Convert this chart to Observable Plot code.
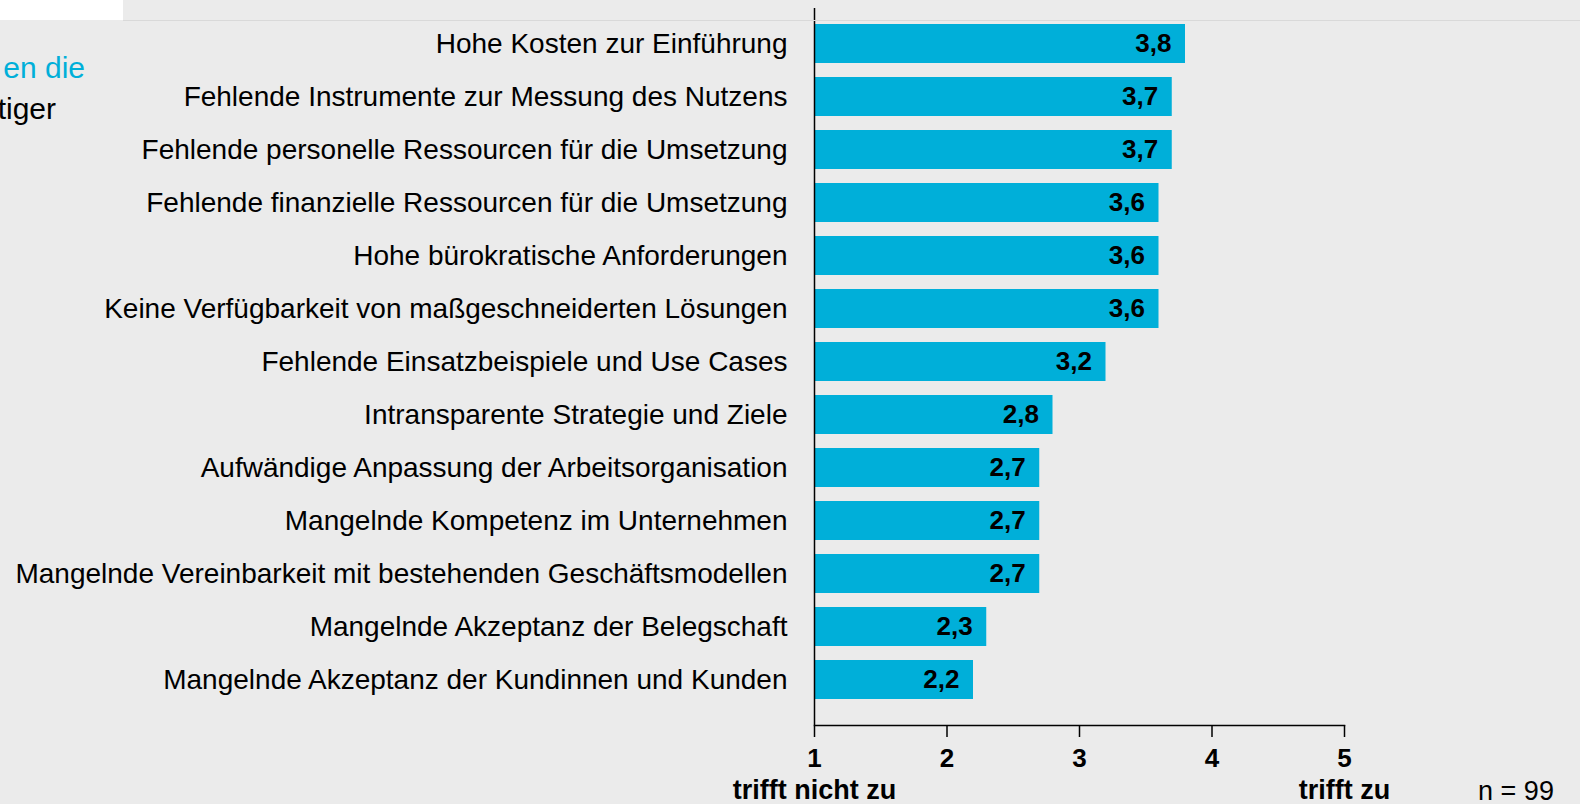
<!DOCTYPE html>
<html>
<head>
<meta charset="utf-8">
<script src="https://cdn.jsdelivr.net/npm/d3@7"></script>
<script src="https://cdn.jsdelivr.net/npm/@observablehq/plot@0.6"></script>
<style>
  html, body { margin: 0; padding: 0; background: #ebebeb; overflow: hidden; }
  body { width: 1580px; height: 804px; position: relative; font-family: "Liberation Sans", Arial, sans-serif; }
  #chart { position: absolute; left: 0; top: 0; }
  .ov { position: absolute; white-space: nowrap; font-family: "Liberation Sans", Arial, sans-serif; }
  #whitebox { position: absolute; left: 0; top: 0; width: 123px; height: 20px; background: #ffffff; }
  #topline { position: absolute; left: 123px; top: 20px; width: 1457px; height: 1px; background: #d9d9d9; }
</style>
</head>
<body>
<div id="chart"></div>
<div id="whitebox"></div>
<div id="topline"></div>
<div class="ov" style="right:1495px; top:51px; font-size:30px; color:#00afd9; text-align:right; line-height:34px;">en die</div>
<div class="ov" style="right:1524px; top:92px; font-size:30px; color:#000; text-align:right; line-height:34px;">tiger</div>
<div class="ov" style="left:1516px; top:791px; transform:translate(-50%,-50%); font-size:27px; color:#000;">n = 99</div>
<script>
const categories = [
  "Hohe Kosten zur Einführung",
  "Fehlende Instrumente zur Messung des Nutzens",
  "Fehlende personelle Ressourcen für die Umsetzung",
  "Fehlende finanzielle Ressourcen für die Umsetzung",
  "Hohe bürokratische Anforderungen",
  "Keine Verfügbarkeit von maßgeschneiderten Lösungen",
  "Fehlende Einsatzbeispiele und Use Cases",
  "Intransparente Strategie und Ziele",
  "Aufwändige Anpassung der Arbeitsorganisation",
  "Mangelnde Kompetenz im Unternehmen",
  "Mangelnde Vereinbarkeit mit bestehenden Geschäftsmodellen",
  "Mangelnde Akzeptanz der Belegschaft",
  "Mangelnde Akzeptanz der Kundinnen und Kunden"
];
const values = [3.8, 3.7, 3.7, 3.6, 3.6, 3.6, 3.2, 2.8, 2.7, 2.7, 2.7, 2.3, 2.2];
const scaleMin = 1;
const scaleMax = 5;
const tickValues = [1, 2, 3, 4, 5];
const endLabelValues = [1, 5];
const endLabelTexts = ["trifft nicht zu", "trifft zu"];

const data = categories.map((c, i) => ({label: c, value: values[i], base: scaleMin}));
const endLabels = endLabelValues.map((v, i) => ({x: v, t: endLabelTexts[i]}));
const fmt = v => v.toFixed(1).replace(".", ",");

const plot = Plot.plot({
  width: 1580,
  height: 804,
  marginLeft: 814,
  marginRight: 236,
  marginTop: 8,
  marginBottom: 79,
  style: {background: "transparent", fontFamily: "'Liberation Sans', Arial, sans-serif", color: "#000"},
  x: {domain: [scaleMin, scaleMax], nice: false},
  y: {domain: categories, range: [15.9, 707.6], paddingInner: 0.26, paddingOuter: 0.13},
  marks: [
    Plot.barX(data, {x1: "base", x2: "value", y: "label", fill: "#00afd9"}),
    Plot.text(data, {x: "value", y: "label", text: d => fmt(d.value), textAnchor: "end", dx: -14, fontWeight: "bold", fontSize: 26, fill: "#000"}),
    Plot.axisY({tickSize: 0, tickPadding: 27, fontSize: 28, label: null}),
    Plot.axisX({ticks: tickValues, tickSize: 12, tickPadding: 11, fontSize: 26, fontWeight: "bold", tickFormat: d => String(d), label: null, strokeWidth: 1.5}),
    Plot.ruleX([scaleMin], {stroke: "#000", strokeWidth: 1.5}),
    Plot.frame({anchor: "bottom", stroke: "#000", strokeWidth: 1.5}),
    Plot.text(endLabels, {x: "x", text: "t", frameAnchor: "bottom", dy: 65, fontWeight: "bold", fontSize: 27, lineAnchor: "middle", fill: "#000"})
  ]
});
document.getElementById("chart").appendChild(plot);
</script>
</body>
</html>
